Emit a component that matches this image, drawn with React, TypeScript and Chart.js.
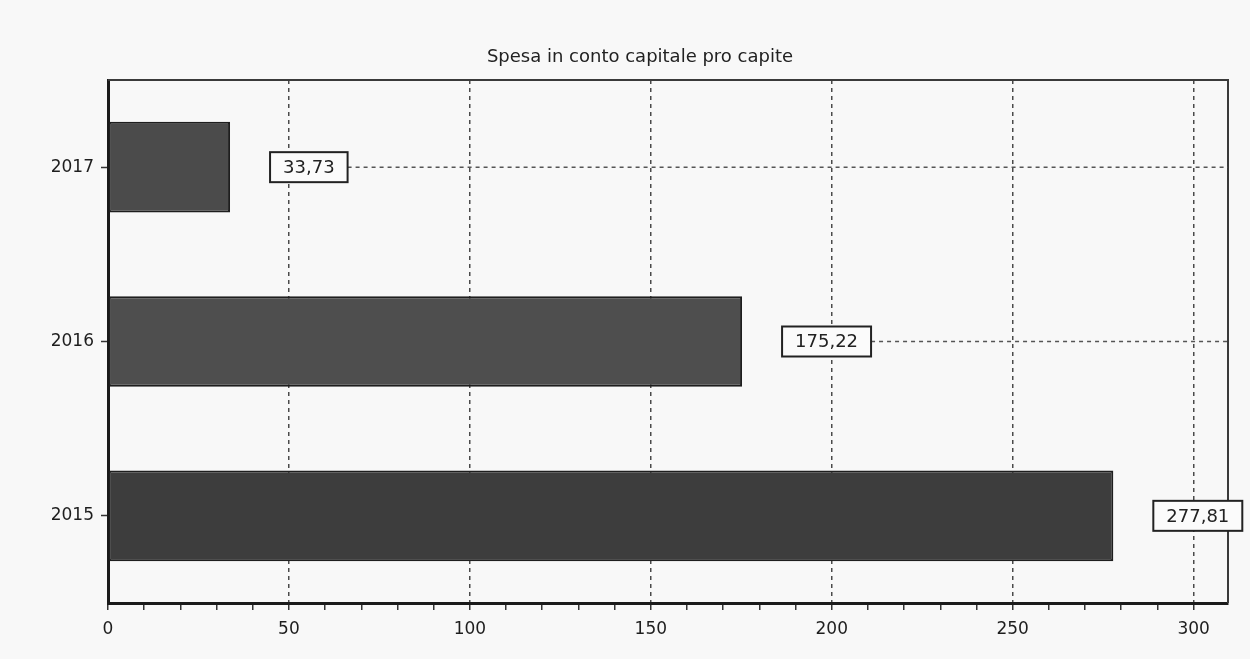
import React, { useEffect, useRef } from "react";
import { Chart, registerables } from "chart.js";

Chart.register(...registerables);

const TITLE = "Spesa in conto capitale pro capite";
const categories = ["2015", "2016", "2017"];
const values = [277.81, 175.22, 33.73];
const barColors = ["#3d3d3d", "#4e4e4e", "#4b4b4b"];
const X_MAX = 309.5;
const FONT = "'DejaVu Sans', Verdana, sans-serif";

const fmt = (v: number) => v.toFixed(2).replace(".", ",");
const isMult = (v: number, m: number) => Math.abs(v - Math.round(v / m) * m) < 1e-6;

const bgPlugin = {
  id: "bg",
  beforeDraw(chart: any) {
    const { ctx, width, height } = chart;
    ctx.save();
    ctx.fillStyle = "#f8f8f8";
    ctx.fillRect(0, 0, width, height);
    ctx.restore();
  },
};

const framePlugin = {
  id: "frame",
  afterDatasetsDraw(chart: any) {
    const { ctx, chartArea: a } = chart;
    ctx.save();
    ctx.strokeStyle = "#3a3a3a";
    ctx.lineWidth = 2;
    ctx.beginPath();
    ctx.moveTo(a.left, a.top);
    ctx.lineTo(a.right, a.top);
    ctx.lineTo(a.right, a.bottom);
    ctx.stroke();
    ctx.restore();
  },
};

const titlePlugin = {
  id: "customTitle",
  afterDraw(chart: any) {
    const { ctx, width } = chart;
    ctx.save();
    ctx.font = `18px ${FONT}`;
    ctx.fillStyle = "#222";
    ctx.textAlign = "center";
    ctx.textBaseline = "middle";
    ctx.fillText(TITLE, width / 2 + 15, 57);
    ctx.restore();
  },
};

const labelPlugin = {
  id: "valueBoxes",
  afterDatasetsDraw(chart: any) {
    const { ctx, chartArea: a } = chart;
    const meta = chart.getDatasetMeta(0);
    const data = chart.data.datasets[0].data as number[];
    ctx.save();
    ctx.font = `18px ${FONT}`;
    meta.data.forEach((el: any, i: number) => {
      const text = fmt(data[i]);
      const tw = ctx.measureText(text).width;
      const bw = tw + 26;
      const bh = 30;
      const x0 = el.x + 40;
      const y0 = el.y - bh / 2;
      if (x0 + bw < a.right) {
        ctx.save();
        ctx.strokeStyle = "#555";
        ctx.lineWidth = 1.5;
        ctx.setLineDash([4, 4]);
        ctx.beginPath();
        ctx.moveTo(x0 + bw, el.y);
        ctx.lineTo(a.right, el.y);
        ctx.stroke();
        ctx.restore();
      }
      ctx.fillStyle = "#fbfbfb";
      ctx.fillRect(x0, y0, bw, bh);
      ctx.strokeStyle = "#222";
      ctx.lineWidth = 2;
      ctx.strokeRect(x0, y0, bw, bh);
      ctx.fillStyle = "#222";
      ctx.textAlign = "center";
      ctx.textBaseline = "middle";
      ctx.fillText(text, x0 + bw / 2, el.y + 1);
    });
    ctx.restore();
  },
};

export default function App() {
  const ref = useRef<HTMLCanvasElement>(null);
  useEffect(() => {
    document.body.style.margin = "0";
    document.body.style.background = "#f8f8f8";
    if (!ref.current) return;
    const chart = new Chart(ref.current, {
      type: "bar",
      data: {
        labels: categories,
        datasets: [
          {
            data: values,
            backgroundColor: barColors,
            borderColor: "#1e1e1e",
            borderWidth: 2,
            borderSkipped: false,
            barPercentage: 0.52,
            categoryPercentage: 1,
          },
        ],
      },
      options: {
        indexAxis: "y",
        responsive: false,
        animation: false,
        layout: { padding: { top: 80, right: 22, left: 0, bottom: 0 } },
        plugins: {
          legend: { display: false },
          title: { display: false },
          tooltip: { enabled: false },
        },
        scales: {
          x: {
            type: "linear",
            min: 0,
            max: X_MAX,
            afterFit(scale: any) {
              scale.height = 56;
            },
            ticks: {
              stepSize: 10,
              includeBounds: false,
              autoSkip: false,
              maxRotation: 0,
              padding: 9,
              color: "#1e1e1e",
              font: { family: FONT, size: 17 },
              callback: (v: any) => (isMult(v, 50) ? String(Math.round(v)) : ""),
            },
            grid: {
              color: (ctx: any) => {
                const v = ctx.tick ? ctx.tick.value : 0;
                return v > 0 && isMult(v, 50) ? "#4a4a4a" : "rgba(0,0,0,0)";
              },
              tickColor: (ctx: any) => {
                const v = ctx.tick ? ctx.tick.value : 0;
                return isMult(v, 10) ? "#333" : "rgba(0,0,0,0)";
              },
              lineWidth: 1.5,
              tickLength: 7,
              tickWidth: 1.5,
            },
            border: { display: true, color: "#1a1a1a", width: 3, dash: [4, 4] },
          },
          y: {
            type: "category",
            reverse: true,
            offset: true,
            afterFit(scale: any) {
              scale.width = 108;
            },
            ticks: {
              padding: 7,
              color: "#1e1e1e",
              font: { family: FONT, size: 17 },
            },
            grid: {
              offset: false,
              drawOnChartArea: false,
              tickLength: 7,
              tickColor: "#333",
              tickWidth: 1.5,
            },
            border: { display: true, color: "#1a1a1a", width: 3 },
          },
        },
      },
      plugins: [bgPlugin, framePlugin, labelPlugin, titlePlugin],
    } as any);
    return () => chart.destroy();
  }, []);
  return (
    <div style={{ width: 1250, height: 659 }}>
      <canvas ref={ref} width={1250} height={659} style={{ display: "block" }} />
    </div>
  );
}
